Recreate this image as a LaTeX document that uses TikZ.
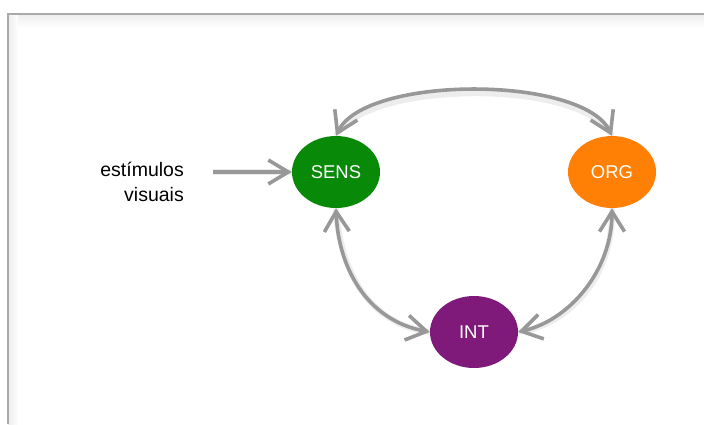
\documentclass[tikz,border=0pt]{standalone}
\usepackage{fontspec}
\setmainfont{Liberation Sans}
\usetikzlibrary{arrows.meta,shapes.geometric}
\definecolor{sensgreen}{RGB}{8,138,8}
\definecolor{orgorange}{RGB}{255,128,4}
\definecolor{intpurple}{RGB}{128,26,122}
\definecolor{arrowgray}{RGB}{152,152,152}
\definecolor{framegray}{RGB}{170,170,170}
\tikzset{
  bubble/.style={ellipse, minimum width=88pt, minimum height=72pt, inner sep=0pt,
    text=white, font=\fontsize{18.5}{22}\selectfont},
  link/.style={draw=arrowgray, line width=3.6pt,
    {Straight Barb[length=20pt,width=25pt,line width=3.6pt]}-{Straight Barb[length=20pt,width=25pt,line width=3.6pt]}},
  feed/.style={draw=arrowgray, line width=3.6pt,
    -{Straight Barb[length=20pt,width=24pt,line width=3.6pt]}},
  shadowline/.style={draw=black, opacity=0.07, line width=6pt}
}
\begin{document}
\begin{tikzpicture}[x=1pt,y=-1pt]
\useasboundingbox (0,0) rectangle (704,424);
\fill[white] (0,0) rectangle (704,424);
% frame with soft inner shade
\shade[top color=black!7, bottom color=white] (8,14) rectangle (704,28);
\shade[left color=black!7, right color=white] (8,14) rectangle (18,424);
\draw[framegray, line width=1.2pt] (8,424) -- (8,14) -- (704,14);

\node[bubble, fill=sensgreen] (sens) at (336,172) {SENS};
\node[bubble, fill=orgorange] (org) at (612,172) {ORG};
\node[bubble, fill=intpurple] (int) at (474,332) {INT};

\node[anchor=north east, align=right, inner sep=0pt,
  font=\fontsize{19.5}{25}\selectfont] (stim) at (184,162) {estímulos\\visuais};
\coordinate (stimend) at (213,172);

% soft shadows of connectors
\begin{scope}[shift={(2,4)}]
\draw[shadowline] (sens.north) .. controls (365,75) and (583,75) .. (org.north);
\draw[shadowline] (sens.south) .. controls (338,265) and (365,320) .. (int.west);
\draw[shadowline] (org.south) .. controls (612,270) and (570,320) .. (int.east);
\draw[shadowline] (stimend) -- (sens.west);
\end{scope}

\draw[link] (sens.north) .. controls (365,75) and (583,75) .. (org.north);
\draw[link] (sens.south) .. controls (338,265) and (365,320) .. (int.west);
\draw[link] (org.south) .. controls (612,270) and (570,320) .. (int.east);
\draw[feed] (stimend) -- (sens.west);
\end{tikzpicture}
\end{document}
